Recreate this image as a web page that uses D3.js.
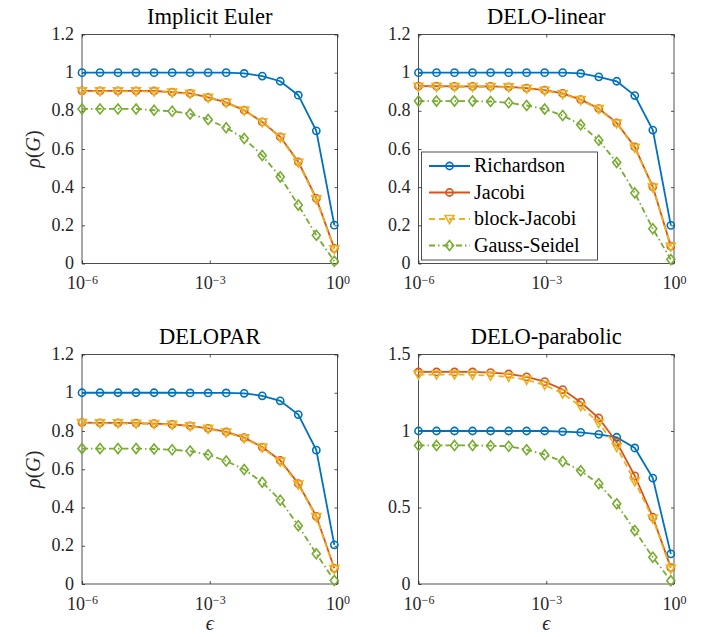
<!DOCTYPE html>
<html>
<head>
<meta charset="utf-8">
<script src="https://cdn.jsdelivr.net/npm/d3@7"></script>
<style>
  body { margin: 0; background: #fff; }
  svg text { font-family: "Liberation Serif", "Times New Roman", "DejaVu Serif", serif; }
</style>
</head>
<body>
<div id="chart"></div>
<script>
// epsilon values (15 points, log-spaced)
var epsValues = [1e-6, 2.65e-6, 7.0e-6, 1.86e-5, 4.93e-5, 1.31e-4, 3.46e-4, 9.17e-4,
                 2.43e-3, 6.44e-3, 1.71e-2, 4.52e-2, 0.12, 0.318, 0.842];

var seriesNames = ["Richardson", "Jacobi", "block-Jacobi", "Gauss-Seidel"];
var panelTitles = ["Implicit Euler", "DELO-linear", "DELOPAR", "DELO-parabolic"];
var yTicksA = [0, 0.2, 0.4, 0.6, 0.8, 1, 1.2];
var yTicksB = [0, 0.5, 1, 1.5];
var xTickExps = [-6, -3, 0];

// Implicit Euler
var eulerRichardson = [1, 1, 1, 1, 1, 1, 1, 1, 1, 0.996, 0.982, 0.955, 0.882, 0.695, 0.201];
var eulerJacobi     = [0.905, 0.905, 0.905, 0.905, 0.904, 0.898, 0.891, 0.870, 0.844, 0.803, 0.742, 0.664, 0.533, 0.341, 0.079];
var eulerBlock      = [0.902, 0.902, 0.902, 0.902, 0.901, 0.896, 0.889, 0.868, 0.842, 0.801, 0.740, 0.660, 0.528, 0.336, 0.075];
var eulerGauss      = [0.810, 0.810, 0.810, 0.810, 0.803, 0.798, 0.784, 0.755, 0.711, 0.655, 0.566, 0.454, 0.306, 0.148, 0.012];

// DELO-linear
var linRichardson = [1, 1, 1, 1, 1, 1, 1, 1, 1, 0.996, 0.978, 0.955, 0.880, 0.699, 0.200];
var linJacobi     = [0.929, 0.929, 0.928, 0.928, 0.928, 0.926, 0.919, 0.908, 0.891, 0.859, 0.812, 0.737, 0.611, 0.402, 0.091];
var linBlock      = [0.926, 0.926, 0.925, 0.925, 0.925, 0.923, 0.916, 0.905, 0.888, 0.856, 0.809, 0.734, 0.606, 0.398, 0.088];
var linGauss      = [0.851, 0.851, 0.851, 0.851, 0.849, 0.842, 0.828, 0.809, 0.776, 0.727, 0.646, 0.529, 0.370, 0.182, 0.021];

// DELOPAR
var parRichardson = [1, 1, 1, 1, 1, 1, 0.999, 0.999, 0.999, 0.997, 0.984, 0.958, 0.886, 0.700, 0.205];
var parJacobi     = [0.844, 0.843, 0.843, 0.841, 0.839, 0.835, 0.827, 0.814, 0.795, 0.765, 0.716, 0.646, 0.525, 0.354, 0.082];
var parBlock      = [0.841, 0.840, 0.840, 0.838, 0.836, 0.832, 0.824, 0.811, 0.792, 0.762, 0.713, 0.640, 0.520, 0.350, 0.078];
var parGauss      = [0.708, 0.708, 0.708, 0.708, 0.706, 0.702, 0.695, 0.676, 0.643, 0.599, 0.532, 0.438, 0.305, 0.158, 0.018];

// DELO-parabolic
var parabRichardson = [1, 1, 1, 1, 1, 1, 1, 1, 0.996, 0.991, 0.978, 0.959, 0.889, 0.692, 0.197];
var parabJacobi     = [1.386, 1.386, 1.386, 1.386, 1.382, 1.373, 1.354, 1.323, 1.271, 1.188, 1.085, 0.926, 0.707, 0.437, 0.107];
var parabBlock      = [1.369, 1.369, 1.369, 1.367, 1.362, 1.354, 1.334, 1.301, 1.245, 1.162, 1.052, 0.895, 0.670, 0.428, 0.100];
var parabGauss      = [0.906, 0.906, 0.906, 0.906, 0.904, 0.900, 0.878, 0.845, 0.801, 0.740, 0.655, 0.524, 0.349, 0.175, 0.022];

var panelData = [
    [eulerRichardson, eulerJacobi, eulerBlock, eulerGauss],
    [linRichardson, linJacobi, linBlock, linGauss],
    [parRichardson, parJacobi, parBlock, parGauss],
    [parabRichardson, parabJacobi, parabBlock, parabGauss]
];

var colors = ["#0072BD", "#D95319", "#EDB120", "#77AC30"];
var dashes = [null, null, "6,4", "6,3,1.5,3"];
var markers = ["circle", "circle", "triangle", "diamond"];
var axisColor = "#262626";
var serif = "'Liberation Serif', 'Times New Roman', 'DejaVu Serif', serif";

var boxes = [
    {left: 82, right: 337.5, top: 34.5, bottom: 263.5, ymax: 1.2, ticks: yTicksA, ylabel: true},
    {left: 418.5, right: 674, top: 34.5, bottom: 263.5, ymax: 1.2, ticks: yTicksA, ylabel: false},
    {left: 82, right: 337.5, top: 354.5, bottom: 584, ymax: 1.2, ticks: yTicksA, ylabel: true},
    {left: 418.5, right: 674, top: 354.5, bottom: 584, ymax: 1.5, ticks: yTicksB, ylabel: false}
];

var svg = d3.select("#chart").append("svg")
    .attr("width", 711)
    .attr("height", 637)
    .attr("font-family", serif);

function drawMarker(g, type, x, y, color) {
    if (type == "circle") {
        g.append("circle").attr("cx", x).attr("cy", y).attr("r", 3.6)
            .attr("fill", "none").attr("stroke", color).attr("stroke-width", 1.6);
    } else if (type == "triangle") {
        g.append("path")
            .attr("d", "M" + (x - 4.5) + "," + (y - 3.5) + "L" + (x + 4.5) + "," + (y - 3.5) + "L" + x + "," + (y + 4.5) + "Z")
            .attr("fill", "none").attr("stroke", color).attr("stroke-width", 1.6);
    } else {
        g.append("path")
            .attr("d", "M" + x + "," + (y - 5) + "L" + (x + 4) + "," + y + "L" + x + "," + (y + 5) + "L" + (x - 4) + "," + y + "Z")
            .attr("fill", "none").attr("stroke", color).attr("stroke-width", 1.6);
    }
}

function tenPower(sel) {
    sel.each(function (d) {
        var t = d3.select(this);
        var e = Math.round(Math.log10(d));
        t.text(null);
        t.append("tspan").text("10");
        t.append("tspan").attr("dy", -5.5).attr("font-size", 12).text(e < 0 ? "\u2212" + (-e) : e);
    });
}

boxes.forEach(function (b, p) {
    var x = d3.scaleLog().domain([1e-6, 1]).range([b.left, b.right]);
    var y = d3.scaleLinear().domain([0, b.ymax]).range([b.bottom, b.top]);
    var g = svg.append("g");

    // frame
    g.append("rect")
        .attr("x", b.left).attr("y", b.top)
        .attr("width", b.right - b.left).attr("height", b.bottom - b.top)
        .attr("fill", "none").attr("stroke", axisColor).attr("stroke-width", 0.8);

    var xTicks = xTickExps.map(function (e) { return Math.pow(10, e); });

    var ax = g.append("g").attr("transform", "translate(0," + b.bottom + ")")
        .call(d3.axisBottom(x).tickValues(xTicks).tickSizeInner(-3).tickSizeOuter(0).tickPadding(13));
    ax.attr("font-family", serif);
    ax.selectAll("text").attr("font-size", 18).attr("fill", axisColor).call(tenPower);
    g.append("g").attr("transform", "translate(0," + b.top + ")")
        .call(d3.axisTop(x).tickValues(xTicks).tickSizeInner(-3).tickSizeOuter(0).tickFormat(""));

    var ay = g.append("g").attr("transform", "translate(" + b.left + ",0)")
        .call(d3.axisLeft(y).tickValues(b.ticks).tickSizeInner(-3).tickSizeOuter(0).tickPadding(8)
            .tickFormat(function (d) { return String(d); }));
    ay.attr("font-family", serif);
    ay.selectAll("text").attr("font-size", 18).attr("fill", axisColor).attr("dy", "0.28em");
    g.append("g").attr("transform", "translate(" + b.right + ",0)")
        .call(d3.axisRight(y).tickValues(b.ticks).tickSizeInner(-3).tickSizeOuter(0).tickFormat(""));

    g.selectAll(".domain").remove();
    g.selectAll(".tick line").attr("stroke", axisColor).attr("stroke-width", 0.8);

    // title
    g.append("text")
        .attr("x", (b.left + b.right) / 2).attr("y", b.top - 11)
        .attr("text-anchor", "middle").attr("font-size", 22.5).attr("fill", "#000")
        .text(panelTitles[p]);

    if (b.ylabel) {
        var yl = g.append("text")
            .attr("transform", "translate(40," + ((b.top + b.bottom) / 2) + ") rotate(-90)")
            .attr("text-anchor", "middle").attr("font-size", 20).attr("fill", axisColor);
        yl.append("tspan").attr("font-style", "italic").text("\u03C1");
        yl.append("tspan").text("(");
        yl.append("tspan").attr("font-style", "italic").text("G");
        yl.append("tspan").text(")");
    }
    if (p >= 2) {
        g.append("text")
            .attr("x", (b.left + b.right) / 2).attr("y", 630)
            .attr("text-anchor", "middle").attr("font-size", 20).attr("font-style", "italic")
            .attr("fill", axisColor).text("\u03F5");
    }

    var line = d3.line()
        .x(function (d, i) { return x(epsValues[i]); })
        .y(function (d) { return y(d); });

    panelData[p].forEach(function (vals, s) {
        var sg = g.append("g");
        sg.append("path")
            .attr("d", line(vals))
            .attr("fill", "none")
            .attr("stroke", colors[s])
            .attr("stroke-width", 1.8)
            .attr("stroke-dasharray", dashes[s]);
        vals.forEach(function (v, i) {
            drawMarker(sg, markers[s], x(epsValues[i]), y(v), colors[s]);
        });
    });
});

// legend in DELO-linear panel
var lg = svg.append("g");
lg.append("rect")
    .attr("x", 421.5).attr("y", 152)
    .attr("width", 176).attr("height", 108)
    .attr("fill", "#fff").attr("stroke", axisColor).attr("stroke-width", 0.8);
seriesNames.forEach(function (name, s) {
    var ly = 166 + s * 26.5;
    lg.append("line")
        .attr("x1", 429).attr("x2", 470).attr("y1", ly).attr("y2", ly)
        .attr("stroke", colors[s]).attr("stroke-width", 1.8)
        .attr("stroke-dasharray", dashes[s]);
    drawMarker(lg, markers[s], 449.5, ly, colors[s]);
    lg.append("text")
        .attr("x", 474).attr("y", ly + 6)
        .attr("font-size", 20).attr("fill", "#000")
        .text(name);
});
</script>
</body>
</html>
